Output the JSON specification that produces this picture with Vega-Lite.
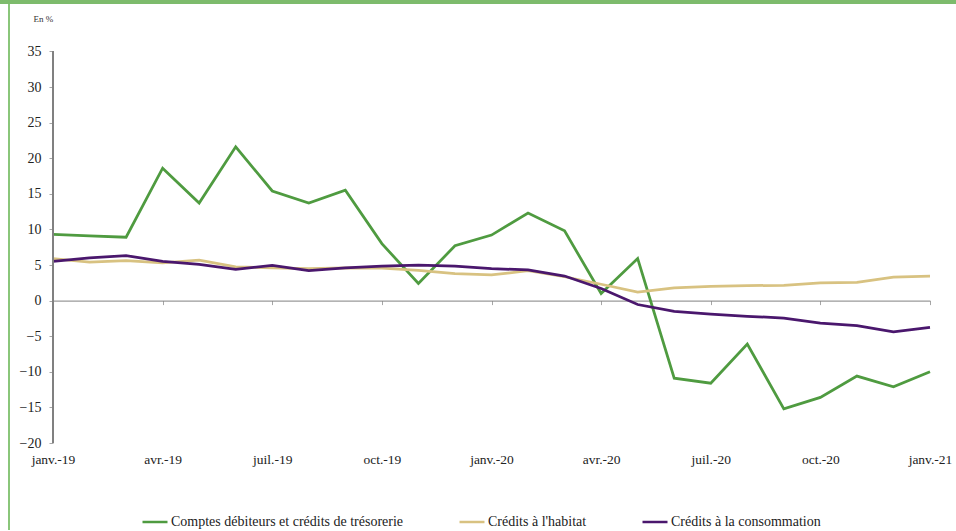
{
  "$schema": "https://vega.github.io/schema/vega-lite/v6.json",
  "padding": 0,
  "background": "white",
  "config": {
    "view": {"stroke": null},
    "font": "Liberation Serif",
    "axis": {"labelFont": "Liberation Serif", "titleFont": "Liberation Serif", "labelOverlap": false},
    "legend": {"labelFont": "Liberation Serif"}
  },
  "vconcat": [
    {
      "width": 956,
      "height": 4,
      "view": {"fill": "#7dbb6c", "stroke": null},
      "data": {"values": []},
      "mark": "point",
      "encoding": {}
    },
    {
      "hconcat": [
        {
          "width": 8,
          "height": 526,
          "view": {"stroke": null},
          "data": {"values": []},
          "mark": "point",
          "encoding": {}
        },
        {
          "width": 2,
          "height": 526,
          "view": {"fill": "#8ac67a", "stroke": null},
          "data": {"values": []},
          "mark": "point",
          "encoding": {}
        },
        {
          "width": 43,
          "height": 526,
          "view": {"stroke": null},
          "data": {"values": []},
          "mark": "point",
          "encoding": {}
        },
        {
          "width": 877,
          "height": 439,
          "data": {
            "values": [
              {"mois": "janv.-19", "serie": "Comptes débiteurs et crédits de trésorerie", "valeur": 9.3},
              {"mois": "févr.-19", "serie": "Comptes débiteurs et crédits de trésorerie", "valeur": 9.1},
              {"mois": "mars-19", "serie": "Comptes débiteurs et crédits de trésorerie", "valeur": 8.9},
              {"mois": "avr.-19", "serie": "Comptes débiteurs et crédits de trésorerie", "valeur": 18.6},
              {"mois": "mai-19", "serie": "Comptes débiteurs et crédits de trésorerie", "valeur": 13.7},
              {"mois": "juin-19", "serie": "Comptes débiteurs et crédits de trésorerie", "valeur": 21.6},
              {"mois": "juil.-19", "serie": "Comptes débiteurs et crédits de trésorerie", "valeur": 15.4},
              {"mois": "août-19", "serie": "Comptes débiteurs et crédits de trésorerie", "valeur": 13.7},
              {"mois": "sept.-19", "serie": "Comptes débiteurs et crédits de trésorerie", "valeur": 15.5},
              {"mois": "oct.-19", "serie": "Comptes débiteurs et crédits de trésorerie", "valeur": 8.0},
              {"mois": "nov.-19", "serie": "Comptes débiteurs et crédits de trésorerie", "valeur": 2.4},
              {"mois": "déc.-19", "serie": "Comptes débiteurs et crédits de trésorerie", "valeur": 7.7},
              {"mois": "janv.-20", "serie": "Comptes débiteurs et crédits de trésorerie", "valeur": 9.2},
              {"mois": "févr.-20", "serie": "Comptes débiteurs et crédits de trésorerie", "valeur": 12.3},
              {"mois": "mars-20", "serie": "Comptes débiteurs et crédits de trésorerie", "valeur": 9.8},
              {"mois": "avr.-20", "serie": "Comptes débiteurs et crédits de trésorerie", "valeur": 1.0},
              {"mois": "mai-20", "serie": "Comptes débiteurs et crédits de trésorerie", "valeur": 5.9},
              {"mois": "juin-20", "serie": "Comptes débiteurs et crédits de trésorerie", "valeur": -10.9},
              {"mois": "juil.-20", "serie": "Comptes débiteurs et crédits de trésorerie", "valeur": -11.6},
              {"mois": "août-20", "serie": "Comptes débiteurs et crédits de trésorerie", "valeur": -6.1},
              {"mois": "sept.-20", "serie": "Comptes débiteurs et crédits de trésorerie", "valeur": -15.2},
              {"mois": "oct.-20", "serie": "Comptes débiteurs et crédits de trésorerie", "valeur": -13.6},
              {"mois": "nov.-20", "serie": "Comptes débiteurs et crédits de trésorerie", "valeur": -10.6},
              {"mois": "déc.-20", "serie": "Comptes débiteurs et crédits de trésorerie", "valeur": -12.1},
              {"mois": "janv.-21", "serie": "Comptes débiteurs et crédits de trésorerie", "valeur": -10.0},
              {"mois": "janv.-19", "serie": "Crédits à l'habitat", "valeur": 5.9},
              {"mois": "févr.-19", "serie": "Crédits à l'habitat", "valeur": 5.4},
              {"mois": "mars-19", "serie": "Crédits à l'habitat", "valeur": 5.6},
              {"mois": "avr.-19", "serie": "Crédits à l'habitat", "valeur": 5.3},
              {"mois": "mai-19", "serie": "Crédits à l'habitat", "valeur": 5.7},
              {"mois": "juin-19", "serie": "Crédits à l'habitat", "valeur": 4.75},
              {"mois": "juil.-19", "serie": "Crédits à l'habitat", "valeur": 4.6},
              {"mois": "août-19", "serie": "Crédits à l'habitat", "valeur": 4.5},
              {"mois": "sept.-19", "serie": "Crédits à l'habitat", "valeur": 4.6},
              {"mois": "oct.-19", "serie": "Crédits à l'habitat", "valeur": 4.55},
              {"mois": "nov.-19", "serie": "Crédits à l'habitat", "valeur": 4.25},
              {"mois": "déc.-19", "serie": "Crédits à l'habitat", "valeur": 3.8},
              {"mois": "janv.-20", "serie": "Crédits à l'habitat", "valeur": 3.6},
              {"mois": "févr.-20", "serie": "Crédits à l'habitat", "valeur": 4.2},
              {"mois": "mars-20", "serie": "Crédits à l'habitat", "valeur": 3.35},
              {"mois": "avr.-20", "serie": "Crédits à l'habitat", "valeur": 2.3},
              {"mois": "mai-20", "serie": "Crédits à l'habitat", "valeur": 1.2},
              {"mois": "juin-20", "serie": "Crédits à l'habitat", "valeur": 1.8},
              {"mois": "juil.-20", "serie": "Crédits à l'habitat", "valeur": 2.0},
              {"mois": "août-20", "serie": "Crédits à l'habitat", "valeur": 2.1},
              {"mois": "sept.-20", "serie": "Crédits à l'habitat", "valeur": 2.15},
              {"mois": "oct.-20", "serie": "Crédits à l'habitat", "valeur": 2.5},
              {"mois": "nov.-20", "serie": "Crédits à l'habitat", "valeur": 2.55},
              {"mois": "déc.-20", "serie": "Crédits à l'habitat", "valeur": 3.3},
              {"mois": "janv.-21", "serie": "Crédits à l'habitat", "valeur": 3.45},
              {"mois": "janv.-19", "serie": "Crédits à la consommation", "valeur": 5.5},
              {"mois": "févr.-19", "serie": "Crédits à la consommation", "valeur": 6.0},
              {"mois": "mars-19", "serie": "Crédits à la consommation", "valeur": 6.3},
              {"mois": "avr.-19", "serie": "Crédits à la consommation", "valeur": 5.5},
              {"mois": "mai-19", "serie": "Crédits à la consommation", "valeur": 5.1},
              {"mois": "juin-19", "serie": "Crédits à la consommation", "valeur": 4.4},
              {"mois": "juil.-19", "serie": "Crédits à la consommation", "valeur": 4.95},
              {"mois": "août-19", "serie": "Crédits à la consommation", "valeur": 4.2},
              {"mois": "sept.-19", "serie": "Crédits à la consommation", "valeur": 4.6},
              {"mois": "oct.-19", "serie": "Crédits à la consommation", "valeur": 4.85},
              {"mois": "nov.-19", "serie": "Crédits à la consommation", "valeur": 5.0},
              {"mois": "déc.-19", "serie": "Crédits à la consommation", "valeur": 4.85},
              {"mois": "janv.-20", "serie": "Crédits à la consommation", "valeur": 4.5},
              {"mois": "févr.-20", "serie": "Crédits à la consommation", "valeur": 4.3},
              {"mois": "mars-20", "serie": "Crédits à la consommation", "valeur": 3.45},
              {"mois": "avr.-20", "serie": "Crédits à la consommation", "valeur": 1.7},
              {"mois": "mai-20", "serie": "Crédits à la consommation", "valeur": -0.55},
              {"mois": "juin-20", "serie": "Crédits à la consommation", "valeur": -1.5},
              {"mois": "juil.-20", "serie": "Crédits à la consommation", "valeur": -1.9},
              {"mois": "août-20", "serie": "Crédits à la consommation", "valeur": -2.2},
              {"mois": "sept.-20", "serie": "Crédits à la consommation", "valeur": -2.45},
              {"mois": "oct.-20", "serie": "Crédits à la consommation", "valeur": -3.15},
              {"mois": "nov.-20", "serie": "Crédits à la consommation", "valeur": -3.5},
              {"mois": "déc.-20", "serie": "Crédits à la consommation", "valeur": -4.4},
              {"mois": "janv.-21", "serie": "Crédits à la consommation", "valeur": -3.75}
            ]
          },
          "layer": [
            {
              "mark": {"type": "line", "strokeWidth": 2.75, "strokeJoin": "miter"},
              "encoding": {
                "x": {
                  "field": "mois",
                  "type": "ordinal",
                  "scale": {
                    "type": "point",
                    "padding": 0,
                    "domain": ["janv.-19", "févr.-19", "mars-19", "avr.-19", "mai-19", "juin-19", "juil.-19", "août-19", "sept.-19", "oct.-19", "nov.-19", "déc.-19", "janv.-20", "févr.-20", "mars-20", "avr.-20", "mai-20", "juin-20", "juil.-20", "août-20", "sept.-20", "oct.-20", "nov.-20", "déc.-20", "janv.-21"]
                  },
                  "axis": {
                    "title": null,
                    "values": ["janv.-19", "avr.-19", "juil.-19", "oct.-19", "janv.-20", "avr.-20", "juil.-20", "oct.-20", "janv.-21"],
                    "offset": -142.4,
                    "domainColor": "#808080",
                    "domainWidth": 1,
                    "tickColor": "#a6a6a6",
                    "tickSize": 4,
                    "labelPadding": 148,
                    "labelAngle": 0,
                    "labelFont": "Liberation Serif",
                    "labelFontSize": 13.5,
                    "labelColor": "#222222",
                    "labelBaseline": "top",
                    "grid": false
                  }
                },
                "y": {
                  "field": "valeur",
                  "type": "quantitative",
                  "scale": {"domain": [-20, 41.66], "nice": false, "zero": false},
                  "axis": {
                    "title": "En %",
                    "titleAngle": 0,
                    "titleAlign": "left",
                    "titleBaseline": "middle",
                    "titleX": -20,
                    "titleY": 14,
                    "titleFont": "Liberation Serif",
                    "titleFontSize": 9,
                    "titleFontWeight": "normal",
                    "titleColor": "#333333",
                    "values": [-20, -15, -10, -5, 0, 5, 10, 15, 20, 25, 30, 35],
                    "domain": false,
                    "tickColor": "#a6a6a6",
                    "tickSize": 4,
                    "labelPadding": 8,
                    "labelFont": "Liberation Serif",
                    "labelFontSize": 14,
                    "labelColor": "#222222",
                    "grid": false
                  }
                },
                "color": {
                  "field": "serie",
                  "type": "nominal",
                  "sort": null,
                  "scale": {
                    "domain": ["Comptes débiteurs et crédits de trésorerie", "Crédits à l'habitat", "Crédits à la consommation"],
                    "range": ["#4f9b40", "#d8c281", "#4a176d"]
                  },
                  "legend": {
                    "title": null,
                    "orient": "none",
                    "direction": "horizontal",
                    "legendX": 141,
                    "legendY": 508,
                    "padding": 0,
                    "symbolType": "stroke",
                    "symbolSize": 625,
                    "symbolStrokeWidth": 2.5,
                    "labelOffset": 2,
                    "columnPadding": 50,
                    "labelFont": "Liberation Serif",
                    "labelFontSize": 14,
                    "labelColor": "#222222",
                    "labelLimit": 400
                  }
                }
              }
            },
            {
              "mark": {"type": "rule", "color": "#808080", "strokeWidth": 1},
              "encoding": {
                "x": {
                  "datum": "janv.-19",
                  "type": "ordinal",
                  "axis": {
                    "title": null,
                    "values": ["janv.-19", "avr.-19", "juil.-19", "oct.-19", "janv.-20", "avr.-20", "juil.-20", "oct.-20", "janv.-21"],
                    "offset": -142.4,
                    "domainColor": "#808080",
                    "domainWidth": 1,
                    "tickColor": "#a6a6a6",
                    "tickSize": 4,
                    "labelPadding": 148,
                    "labelAngle": 0,
                    "labelFont": "Liberation Serif",
                    "labelFontSize": 13.5,
                    "labelColor": "#222222",
                    "labelBaseline": "top",
                    "grid": false
                  }
                },
                "y": {
                  "datum": 35,
                  "type": "quantitative",
                  "axis": {
                    "title": "En %",
                    "titleAngle": 0,
                    "titleAlign": "left",
                    "titleBaseline": "middle",
                    "titleX": -20,
                    "titleY": 14,
                    "titleFont": "Liberation Serif",
                    "titleFontSize": 9,
                    "titleFontWeight": "normal",
                    "titleColor": "#333333",
                    "values": [-20, -15, -10, -5, 0, 5, 10, 15, 20, 25, 30, 35],
                    "domain": false,
                    "tickColor": "#a6a6a6",
                    "tickSize": 4,
                    "labelPadding": 8,
                    "labelFont": "Liberation Serif",
                    "labelFontSize": 14,
                    "labelColor": "#222222",
                    "grid": false
                  }
                },
                "y2": {"datum": -20}
              }
            }
          ]
        }
      ],
      "spacing": 0,
      "bounds": "flush"
    }
  ],
  "spacing": 0
}
